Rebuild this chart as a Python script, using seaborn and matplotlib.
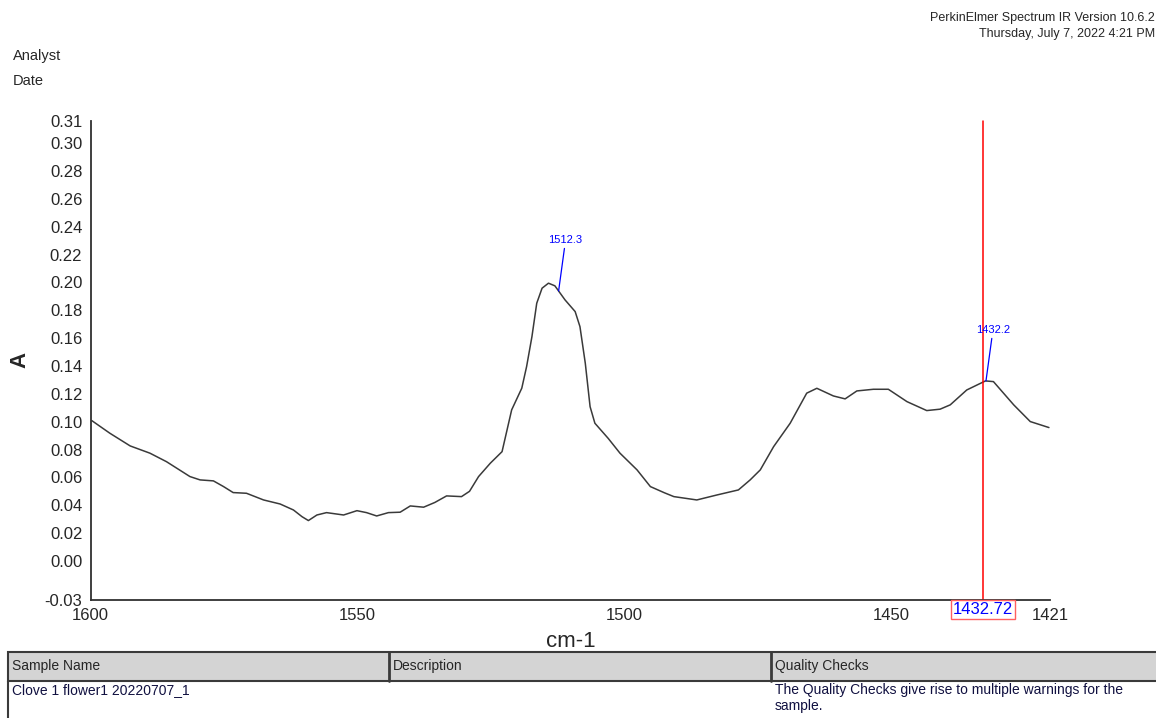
import matplotlib.pyplot as plt
import matplotlib.patches as mpatches
import matplotlib.lines as mlines
import numpy as np
import pandas as pd
import seaborn as sns

# spectrum (cm-1 vs absorbance)
wavenumber = [1599.8, 1596.4, 1592.6, 1588.9, 1585.8, 1581.4, 1579.5, 1577.0, 1575.1, 1573.3,
              1570.8, 1567.6, 1564.5, 1562.0, 1560.4, 1559.2, 1557.6, 1555.8, 1552.6, 1550.1,
              1548.3, 1546.4, 1544.2, 1542.0, 1540.1, 1537.6, 1535.5, 1533.3, 1530.5, 1529.0,
              1527.3, 1525.1, 1522.9, 1521.1, 1519.2, 1518.3, 1517.3, 1516.4, 1515.4, 1514.2,
              1513.0, 1511.1, 1509.2, 1508.3, 1507.3, 1506.4, 1505.5, 1503.0, 1500.8, 1497.6,
              1495.1, 1492.5, 1490.7, 1486.4, 1482.6, 1478.6, 1476.4, 1474.5, 1472.0, 1468.9,
              1465.8, 1463.9, 1460.8, 1458.6, 1456.4, 1453.3, 1450.5, 1447.0, 1443.3, 1440.8,
              1438.9, 1435.8, 1432.3, 1430.8, 1427.0, 1423.9, 1420.4]
absorbance = [0.1008, 0.0917, 0.0826, 0.0774, 0.0713, 0.0606, 0.0582, 0.0575, 0.0534, 0.0491,
              0.0486, 0.0438, 0.0409, 0.0366, 0.0318, 0.0290, 0.0330, 0.0347, 0.0330, 0.0361,
              0.0347, 0.0323, 0.0347, 0.0350, 0.0395, 0.0386, 0.0420, 0.0467, 0.0462, 0.0500,
              0.0606, 0.0702, 0.0785, 0.1085, 0.1241, 0.1396, 0.1611, 0.1851, 0.1959, 0.1995,
              0.1976, 0.1875, 0.1791, 0.1683, 0.1420, 0.1108, 0.0989, 0.0880, 0.0774, 0.0654,
              0.0534, 0.0490, 0.0462, 0.0438, 0.0474, 0.0510, 0.0582, 0.0654, 0.0821, 0.0989,
              0.1205, 0.1240, 0.1185, 0.1164, 0.1221, 0.1233, 0.1233, 0.1144, 0.1080, 0.1090,
              0.1121, 0.1228, 0.1293, 0.1288, 0.1121, 0.1001, 0.0958]

peak_positions = [1512.3, 1432.2]
peak_labels = ["1512.3", "1432.2"]
cursor_position = 1432.72

x_limits = [1600, 1420.2]
x_ticks = [1600, 1550, 1500, 1450, 1420.2]
x_tick_labels = ["1600", "1550", "1500", "1450", "1421"]
y_limits = [-0.0277, 0.3162]
y_ticks = [-0.0277, 0.00, 0.02, 0.04, 0.06, 0.08, 0.10, 0.12, 0.14, 0.16, 0.18,
           0.20, 0.22, 0.24, 0.26, 0.28, 0.30, 0.3162]
y_tick_labels = ["-0.03", "0.00", "0.02", "0.04", "0.06", "0.08", "0.10", "0.12", "0.14",
                 "0.16", "0.18", "0.20", "0.22", "0.24", "0.26", "0.28", "0.30", "0.31"]

table_headers = ["Sample Name", "Description", "Quality Checks"]
table_row = ["Clove 1 flower1 20220707_1", "",
             "The Quality Checks give rise to multiple warnings for the\nsample."]

sns.set_style("white")
plt.rcParams["font.family"] = ["Liberation Sans", "DejaVu Sans"]

W, H = 1156, 718
fig = plt.figure(figsize=(W / 100, H / 100), dpi=100)
ax = fig.add_axes([90.7 / W, 1 - 599.5 / H, (1050 - 90.7) / W, (599.5 - 120.7) / H])

df = pd.DataFrame({"cm-1": wavenumber, "A": absorbance})
sns.lineplot(data=df, x="cm-1", y="A", ax=ax, color="#3a3a3a", linewidth=1.1, sort=True)
for ln in ax.lines:
    ln.set_solid_joinstyle("round")
    ln.set_solid_capstyle("round")

ax.set_xlim(x_limits)
ax.set_ylim(y_limits)
ax.set_xticks(x_ticks)
ax.set_xticklabels(x_tick_labels, fontsize=12)
ax.set_yticks(y_ticks)
ax.set_yticklabels(y_tick_labels, fontsize=12)
ax.tick_params(direction="out", length=5, width=1.2, color="#303030", pad=1)
for s in ["top", "right"]:
    ax.spines[s].set_visible(False)
for s in ["left", "bottom"]:
    ax.spines[s].set_color("#303030")
    ax.spines[s].set_linewidth(1.3)
ax.set_xlabel("cm-1", fontsize=16, labelpad=6)
ax.set_ylabel("A", fontsize=16, fontweight="bold", labelpad=10)
ax.grid(False)

# peak picks
order = np.argsort(wavenumber)
wn_sorted = np.array(wavenumber)[order]
ab_sorted = np.array(absorbance)[order]
for pos, lab in zip(peak_positions, peak_labels):
    yv = np.interp(pos, wn_sorted, ab_sorted)
    ax.annotate(lab, xy=(pos, yv), xytext=(5, 33), textcoords="offset points",
                ha="center", va="bottom", fontsize=8, color="blue",
                arrowprops=dict(arrowstyle="-", color="blue", lw=0.9, shrinkA=0, shrinkB=0))

# cursor
ax.axvline(cursor_position, color="red", lw=1.1, clip_on=False)
ax.annotate(f"{cursor_position:.2f}", xy=(cursor_position, 0), xycoords=("data", "axes fraction"),
            xytext=(0, -1.5), textcoords="offset points", ha="center", va="top",
            fontsize=12, color="blue",
            bbox=dict(boxstyle="square,pad=0.12", fc="white", ec="#ff6060", lw=1))

# header texts
fig.text(1155 / W, 1 - 18 / H, "PerkinElmer Spectrum IR Version 10.6.2", ha="right", va="center", fontsize=9)
fig.text(1155 / W, 1 - 34 / H, "Thursday, July 7, 2022 4:21 PM", ha="right", va="center", fontsize=9)
fig.text(13 / W, 1 - 56 / H, "Analyst", ha="left", va="center", fontsize=10.5)
fig.text(13 / W, 1 - 81 / H, "Date", ha="left", va="center", fontsize=10.5)

# sample table
def fx(px):
    return px / W

def fy(py):
    return 1 - py / H

fig.add_artist(mpatches.Rectangle((fx(8), fy(681)), fx(1170 - 8), fy(652) - fy(681),
                                  transform=fig.transFigure, fc="#d4d4d4", ec="#3a3a3a", lw=1.5))
fig.add_artist(mlines.Line2D([fx(8), fx(8)], [fy(681), fy(720)], transform=fig.transFigure,
                             color="#3a3a3a", lw=1.5))
col_x = [8, 389, 771]
for cx in col_x[1:]:
    fig.add_artist(mlines.Line2D([fx(cx), fx(cx)], [fy(652), fy(681)], transform=fig.transFigure,
                                 color="#3a3a3a", lw=2))
for cx, head, val in zip(col_x, table_headers, table_row):
    fig.text(fx(cx + 4), fy(666), head, ha="left", va="center", fontsize=10)
    if val:
        fig.text(fx(cx + 4), fy(683), val, ha="left", va="top", fontsize=10, color="#101040",
                 linespacing=1.15)

fig.savefig("out.png", dpi=100)
